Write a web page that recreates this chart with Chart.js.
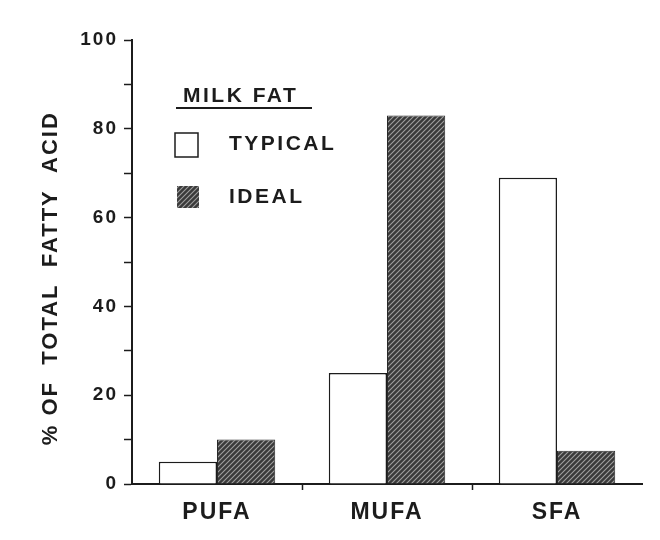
<!DOCTYPE html>
<html>
<head>
<meta charset="utf-8">
<script src="https://cdn.jsdelivr.net/npm/chart.js@4.4.1/dist/chart.umd.min.js"></script>
<style>
  body { margin: 0; background: #fff; }
  #chart { display: block; }
</style>
</head>
<body>
<canvas id="chart" width="660" height="540"></canvas>
<script>
const categories = ['PUFA', 'MUFA', 'SFA'];
const typicalValues = [5, 25, 69];
const idealValues = [10, 83, 7.5];
const seriesNames = ['TYPICAL', 'IDEAL'];
const legendTitle = 'MILK FAT';
// trailing spaces push the rotated title a little lower, like the original
const yTitle = '% OF  TOTAL  FATTY  ACID    ';
const yLabelTicks = [0, 20, 40, 60, 80, 100];

const canvas = document.getElementById('chart');
const ctx = canvas.getContext('2d');
const ink = '#1c1c1c';
const clear = 'rgba(0,0,0,0)';
const fontFamily = '"Liberation Sans", Arial, Helvetica, sans-serif';

// dark hatched fill used for the "ideal" bars
function makeHatch() {
    const c = document.createElement('canvas');
    c.width = 5;
    c.height = 5;
    const g = c.getContext('2d');
    g.fillStyle = '#3a3a3a';
    g.fillRect(0, 0, 5, 5);
    g.strokeStyle = '#a0a0a0';
    g.lineWidth = 1.1;
    g.beginPath();
    g.moveTo(0, 5); g.lineTo(5, 0);
    g.moveTo(-2.5, 2.5); g.lineTo(2.5, -2.5);
    g.moveTo(2.5, 7.5); g.lineTo(7.5, 2.5);
    g.stroke();
    return ctx.createPattern(c, 'repeat');
}
const hatch = makeHatch();

const spacing = {
    id: 'spacing',
    beforeLayout(chart) { chart.ctx.letterSpacing = '2px'; },
    beforeDraw(chart) { chart.ctx.letterSpacing = '2px'; }
};

const milkLegend = {
    id: 'milkLegend',
    afterDatasetsDraw(chart) {
        const c = chart.ctx;
        const a = chart.chartArea;
        const x0 = a.left;
        const y0 = a.top;
        c.save();
        c.letterSpacing = '2.5px';
        c.fillStyle = ink;
        c.font = 'bold 21px ' + fontFamily;
        c.textBaseline = 'alphabetic';
        c.textAlign = 'left';
        c.fillText(legendTitle, x0 + 51, y0 + 62);
        c.strokeStyle = ink;
        c.lineWidth = 2;
        c.beginPath();
        c.moveTo(x0 + 44, y0 + 68);
        c.lineTo(x0 + 180, y0 + 68);
        c.stroke();

        c.lineWidth = 1.5;
        c.fillStyle = '#fff';
        c.fillRect(x0 + 43, y0 + 93, 23, 24);
        c.strokeRect(x0 + 43, y0 + 93, 23, 24);
        c.fillStyle = hatch;
        c.fillRect(x0 + 45, y0 + 146, 22, 22);

        c.fillStyle = ink;
        c.textBaseline = 'middle';
        c.fillText(seriesNames[0], x0 + 97, y0 + 104);
        c.fillText(seriesNames[1], x0 + 97, y0 + 157);
        c.restore();
    }
};

const chart = new Chart(canvas, {
    type: 'bar',
    data: {
        labels: categories,
        datasets: [{
            label: seriesNames[0],
            data: typicalValues,
            backgroundColor: '#ffffff',
            borderColor: ink,
            borderWidth: 1.5,
            borderSkipped: 'bottom'
        }, {
            label: seriesNames[1],
            data: idealValues,
            backgroundColor: hatch,
            borderColor: '#2a2a2a',
            borderWidth: 1,
            borderSkipped: 'bottom'
        }]
    },
    options: {
        responsive: false,
        animation: false,
        devicePixelRatio: 1,
        datasets: {
            bar: {
                categoryPercentage: 0.685,
                barPercentage: 1.0
            }
        },
        layout: {
            padding: { left: 0, right: 18, top: 40, bottom: 0 }
        },
        plugins: {
            legend: { display: false },
            tooltip: { enabled: false }
        },
        scales: {
            x: {
                grid: {
                    offset: true,
                    drawOnChartArea: false,
                    tickLength: 6,
                    tickColor: c => (c.index === undefined || c.index === 0) ? clear : ink,
                    tickWidth: 1.5
                },
                border: { display: true, color: ink, width: 2 },
                ticks: {
                    color: ink,
                    padding: 9,
                    font: { family: fontFamily, size: 23, weight: 'bold' }
                },
                afterFit(scale) { scale.height = 56; }
            },
            y: {
                min: 0,
                max: 100,
                ticks: {
                    stepSize: 10,
                    color: ink,
                    padding: 6,
                    font: { family: fontFamily, size: 19, weight: 'bold' },
                    callback: v => yLabelTicks.includes(v) ? v : ''
                },
                grid: {
                    drawOnChartArea: false,
                    tickLength: 8,
                    tickColor: ink,
                    tickWidth: 1.5
                },
                border: { display: true, color: ink, width: 2 },
                title: {
                    display: true,
                    text: yTitle,
                    color: ink,
                    padding: { top: 38, bottom: 0 },
                    font: { family: fontFamily, size: 22, weight: 'bold' }
                },
                afterFit(scale) { scale.width = 132; }
            }
        }
    },
    plugins: [spacing, milkLegend]
});
</script>
</body>
</html>
